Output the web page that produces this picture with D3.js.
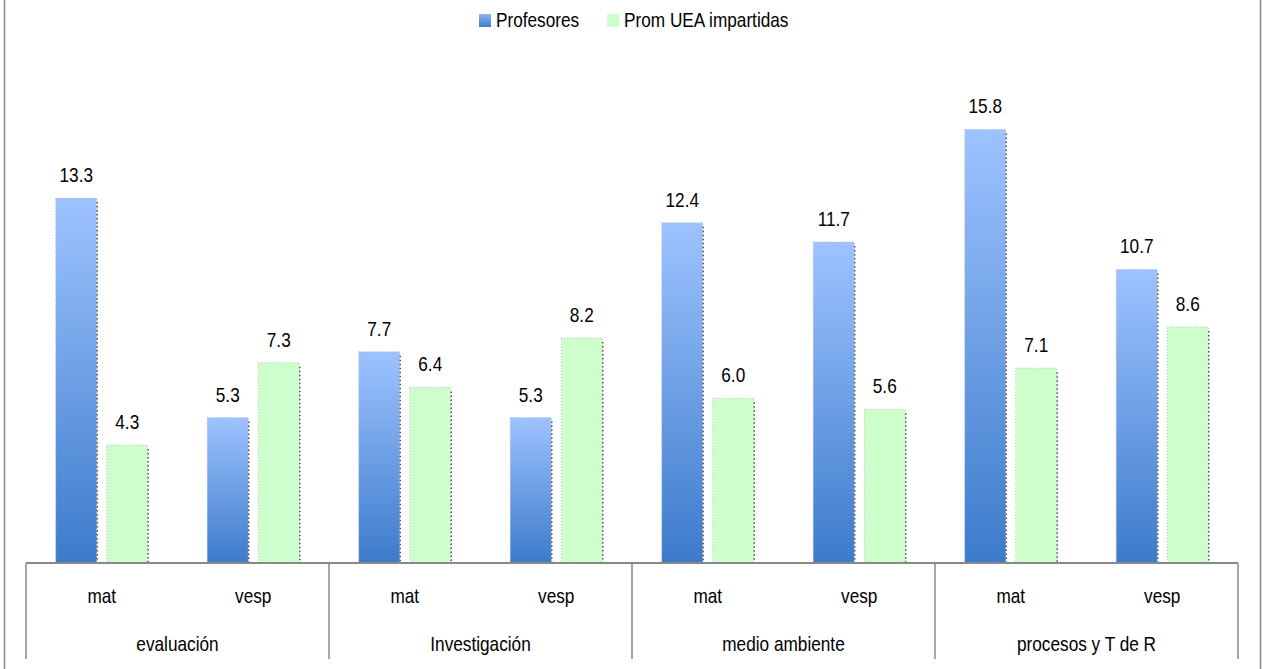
<!DOCTYPE html>
<html><head><meta charset="utf-8">
<script src="https://cdn.jsdelivr.net/npm/d3@7/dist/d3.min.js"></script>
<style>
html,body{margin:0;padding:0;background:#fff;}
svg{display:block;font-family:"Liberation Sans",Arial,sans-serif;}
</style></head>
<body><svg id="c" width="1262" height="669"></svg>
<script>
const groups = ["evaluación","Investigación","medio ambiente","procesos y T de R"];
const shifts = ["mat","vesp"];
const seriesNames = ["Profesores","Prom UEA impartidas"];
const profesores = [13.3, 5.3, 7.7, 5.3, 12.4, 11.7, 15.8, 10.7];
const promUEA = [4.3, 7.3, 6.4, 8.2, 6.0, 5.6, 7.1, 8.6];

const svg = d3.select("#c");
const W = 1262, H = 669;
const left = 26, right = 1238, base = 563;
const SX = 0.82, FS = 21;

const defs = svg.append("defs");
const g = defs.append("linearGradient").attr("id","blueGrad").attr("x1",0).attr("y1",0).attr("x2",0).attr("y2",1);
g.append("stop").attr("offset","0%").attr("stop-color","#9dc3ff");
g.append("stop").attr("offset","100%").attr("stop-color","#3c7bcb");
const lg = defs.append("linearGradient").attr("id","blueLeg").attr("x1",0).attr("y1",0).attr("x2",0).attr("y2",1);
lg.append("stop").attr("offset","0%").attr("stop-color","#8fb6f0");
lg.append("stop").attr("offset","100%").attr("stop-color","#3c7bcb");

// outer frame
svg.append("line").attr("x1",4.5).attr("x2",4.5).attr("y1",0).attr("y2",H).attr("stroke","#888").attr("stroke-width",1.5);
svg.append("line").attr("x1",1260.5).attr("x2",1260.5).attr("y1",0).attr("y2",H).attr("stroke","#888").attr("stroke-width",1.5);

const cats = [];
groups.forEach(gr => shifts.forEach(s => cats.push(gr + "|" + s)));

const x0 = d3.scaleBand().domain(cats).range([left, right]).padding(0);
const xg = d3.scaleBand().domain(groups).range([left, right]).padding(0);
const x1 = d3.scaleBand().domain(seriesNames).range([0, x0.bandwidth()]).paddingInner(0.196).paddingOuter(0.583);
const y = d3.scaleLinear().domain([0, 18]).range([base, base - 18 * 27.44]);

const data = cats.map((c, i) => ({cat: c, vals: [
  {s: seriesNames[0], v: profesores[i]},
  {s: seriesNames[1], v: promUEA[i]}
]}));

function label(sel, xf, yf, anchor) {
  return sel.attr("transform", (d, i) => `translate(${xf(d, i)},${yf(d, i)}) scale(${SX},1)`)
    .attr("text-anchor", anchor || "middle")
    .attr("font-size", FS)
    .attr("fill", "#000");
}

const cg = svg.append("g").selectAll("g").data(data).join("g")
  .attr("transform", d => `translate(${x0(d.cat)},0)`);

cg.selectAll("rect").data(d => d.vals).join("rect")
  .attr("x", d => x1(d.s))
  .attr("y", d => y(d.v))
  .attr("width", x1.bandwidth())
  .attr("height", d => y(0) - y(d.v))
  .attr("fill", d => d.s === seriesNames[0] ? "url(#blueGrad)" : "#ccffcc")
  .attr("stroke", "#bbb")
  .attr("stroke-width", 1)
  .attr("stroke-dasharray", "1,2");

cg.selectAll("line.edge").data(d => d.vals).join("line")
  .attr("class", "edge")
  .attr("x1", d => x1(d.s) + x1.bandwidth() + 0.5)
  .attr("x2", d => x1(d.s) + x1.bandwidth() + 0.5)
  .attr("y1", d => y(d.v) + 4)
  .attr("y2", y(0))
  .attr("stroke", "#555")
  .attr("stroke-width", 1.5)
  .attr("stroke-dasharray", "1.5,2.5");

label(cg.selectAll("text").data(d => d.vals).join("text"),
  d => x1(d.s) + x1.bandwidth() / 2, d => y(d.v) - 16)
  .text(d => d3.format(".1f")(d.v));

// axis line
svg.append("line").attr("x1", left).attr("x2", right).attr("y1", base).attr("y2", base)
  .attr("stroke", "#888").attr("stroke-width", 2);

// separators
const seps = groups.map(gr => xg(gr)).concat([right]);
svg.append("g").selectAll("line").data(seps).join("line")
  .attr("x1", d => d).attr("x2", d => d).attr("y1", base).attr("y2", 659)
  .attr("stroke", "#888").attr("stroke-width", 1.5);

// category labels
label(svg.append("g").selectAll("text").data(cats).join("text"),
  d => x0(d) + x0.bandwidth() / 2, () => 603)
  .text(d => d.split("|")[1]);

label(svg.append("g").selectAll("text").data(groups).join("text"),
  d => xg(d) + xg.bandwidth() / 2, () => 651)
  .text(d => d);

// legend
const legX = [479, 607];
const leg = svg.append("g").selectAll("g").data(seriesNames).join("g")
  .attr("transform", (d, i) => `translate(${legX[i]},14)`);
leg.append("rect").attr("width", 12).attr("height", 13)
  .attr("fill", (d, i) => i === 0 ? "url(#blueLeg)" : "#ccffcc");
leg.append("text").attr("transform", `translate(17,13) scale(${SX},1)`)
  .attr("font-size", FS).text(d => d);
</script></body></html>
